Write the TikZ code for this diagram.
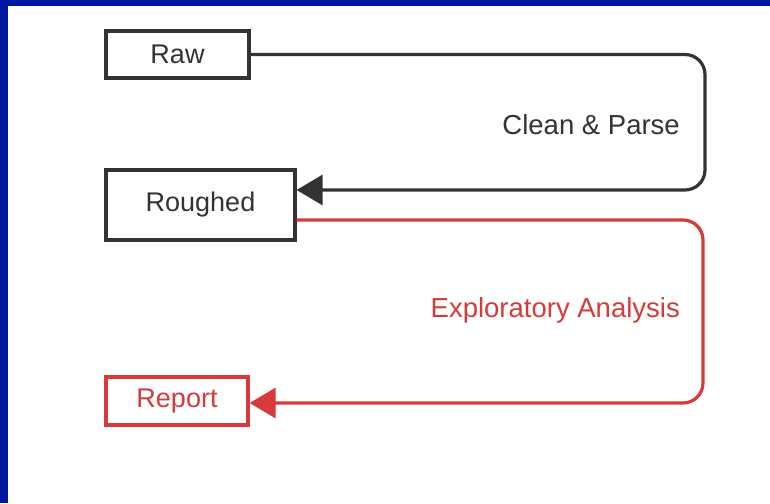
\documentclass[tikz,border=0pt]{standalone}
\usepackage{fontspec}
\setmainfont{Liberation Sans}
\usetikzlibrary{arrows.meta}
\definecolor{frameblue}{HTML}{0018A0}
\definecolor{darkline}{HTML}{333333}
\definecolor{redline}{HTML}{D63A3A}
\tikzset{
  box/.style={draw=darkline, line width=3.2pt, rectangle, inner sep=0pt, font=\fontsize{27}{30}\selectfont, text=darkline},
  redbox/.style={box, draw=redline, text=redline},
  conn/.style={draw=darkline, line width=3.2pt, rounded corners=20pt, -{Triangle[length=26pt,width=30pt]}},
  redconn/.style={conn, draw=redline},
  lbl/.style={font=\fontsize{27.5}{30}\selectfont, anchor=east, inner sep=0pt}
}
\begin{document}
\begin{tikzpicture}[x=1pt,y=-1pt]
\useasboundingbox (0,0) rectangle (770,503);
\fill[white] (0,0) rectangle (770,503);
\fill[frameblue] (0,0) rectangle (770,6);
\fill[frameblue] (0,0) rectangle (8,503);
\node[box, minimum width=143pt, minimum height=47pt] (raw) at (177.5,54.5) {Raw};
\node[box, minimum width=189pt, minimum height=70pt] (rough) at (200.5,205) {Roughed};
\node[redbox, minimum width=142pt, minimum height=48pt] (report) at (177,401) {Report};
\coordinate (c1) at (705,54.5);
\coordinate (c2) at (705,190);
\coordinate (r1) at (703,220);
\coordinate (r2) at (703,403);
\draw[conn] (raw.east) -- (c1) -- (c2) -- (rough.east |- c2);
\draw[redconn] (rough.east |- r1) -- (r1) -- (r2) -- (report.east |- r2);
\node[lbl, text=darkline] (l1) at (680,125) {Clean \& Parse};
\node[lbl, text=redline] (l2) at (680,310) {Exploratory Analysis};
\end{tikzpicture}
\end{document}
